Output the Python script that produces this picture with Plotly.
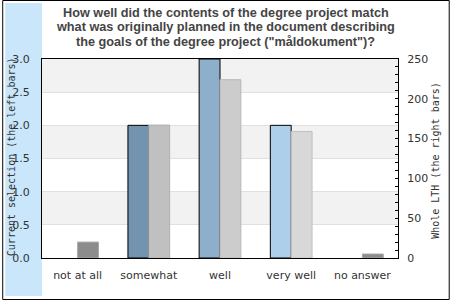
import plotly.graph_objects as go

categories = ["not at all", "somewhat", "well", "very well", "no answer"]
current_selection = [0, 2, 3, 2, 0]
whole_lth = [20, 167, 224, 159, 5]
left_colors = ["#7393AE", "#7393AE", "#8EAFCB", "#AECFE9", "#AECFE9"]
right_colors = ["#8C8C8C", "#C0C0C0", "#CCCCCC", "#D8D8D8", "#8C8C8C"]
right_lines = ["#A8A8A8", "#B0B0B0", "#B8B8B8", "#C0C0C0", "#A8A8A8"]
title_lines = [
    "How well did the contents of the degree project match",
    "what was originally planned in the document describing",
    "the goals of the degree project (\"måldokument\")?",
]

W, H = 450, 300
L, R, T, B = 40, 398, 59, 258
pw, ph = R - L, B - T

def px(x):
    return (x - L) / pw

def py(y):
    return (B - y) / ph

fig = go.Figure()
fig.add_trace(go.Bar(
    x=categories, y=current_selection, yaxis="y",
    width=0.293, offset=-0.293,
    marker=dict(color=left_colors,
                line=dict(color="#000000", width=[1 if v else 0 for v in current_selection])),
    showlegend=False, hoverinfo="skip",
))
fig.add_trace(go.Bar(
    x=categories, y=whole_lth, yaxis="y2",
    width=0.293, offset=0.0,
    marker=dict(color=right_colors,
                line=dict(color=right_lines, width=[1 if v else 0 for v in whole_lth])),
    showlegend=False, hoverinfo="skip",
))

shapes = []
shapes.append(dict(type="rect", xref="paper", yref="paper",
                   x0=px(3), x1=px(40), y0=py(3), y1=py(296),
                   fillcolor="#C9E6FB", line=dict(width=0), layer="below"))
shapes.append(dict(type="rect", xref="paper", yref="paper",
                   x0=px(0.5), x1=px(449.5), y0=py(0.5), y1=py(299.5),
                   fillcolor="rgba(0,0,0,0)", line=dict(color="#000000", width=1), layer="above"))
for lo in [0.5, 1.5, 2.5]:
    shapes.append(dict(type="rect", xref="paper", yref="y",
                       x0=0, x1=1, y0=lo, y1=lo + 0.5,
                       fillcolor="#F2F2F2", line=dict(width=0), layer="below"))

annotations = []
for line, yy in zip(title_lines, [13, 27, 41.5]):
    annotations.append(dict(text=line, xref="paper", yref="paper",
                            x=px(225), y=py(yy), xanchor="center", yanchor="middle",
                            showarrow=False,
                            font=dict(family="Liberation Sans, Arial", size=12.7, color="#444444", weight="bold")))
annotations.append(dict(text="Current selection (the left bars)", xref="paper", yref="paper",
                        x=px(9), y=py(157), textangle=-90, xanchor="center", yanchor="middle",
                        showarrow=False,
                        font=dict(family="DejaVu Sans Mono", size=10, color="#333333")))
annotations.append(dict(text="Whole LTH (the right bars)", xref="paper", yref="paper",
                        x=px(435), y=py(160), textangle=-90, xanchor="center", yanchor="middle",
                        showarrow=False,
                        font=dict(family="DejaVu Sans Mono", size=10, color="#333333")))

fig.update_layout(
    width=W, height=H,
    margin=dict(l=L, r=W - R, t=T, b=H - B, pad=0),
    paper_bgcolor="#FFFFFF", plot_bgcolor="#FFFFFF",
    barmode="overlay",
    font=dict(family="DejaVu Sans", size=11, color="#333333"),
    xaxis=dict(type="category", range=[-0.5, 4.5], showline=True, linecolor="#000000",
               linewidth=1, mirror=True, ticks="", showgrid=False, fixedrange=True,
               tickfont=dict(size=11, color="#333333"), ticklabelstandoff=7),
    yaxis=dict(range=[0, 3], dtick=0.5, tickformat=".1f", showline=True, linecolor="#000000",
               linewidth=1, ticks="", showgrid=True, gridcolor="#E0E0E0", gridwidth=1,
               zeroline=False, tickfont=dict(size=11, color="#333333"), ticklabelstandoff=9),
    yaxis2=dict(range=[0, 250], overlaying="y", side="right", dtick=50, showline=True,
                linecolor="#000000", linewidth=1, ticks="inside", ticklen=3, tickcolor="#000000",
                minor=dict(dtick=10, ticks="inside", ticklen=3, tickcolor="#000000"),
                showgrid=False, zeroline=False, tickfont=dict(size=11, color="#333333"),
                ticklabelstandoff=6),
    shapes=shapes,
    annotations=annotations,
)

fig.write_html("out.html")
